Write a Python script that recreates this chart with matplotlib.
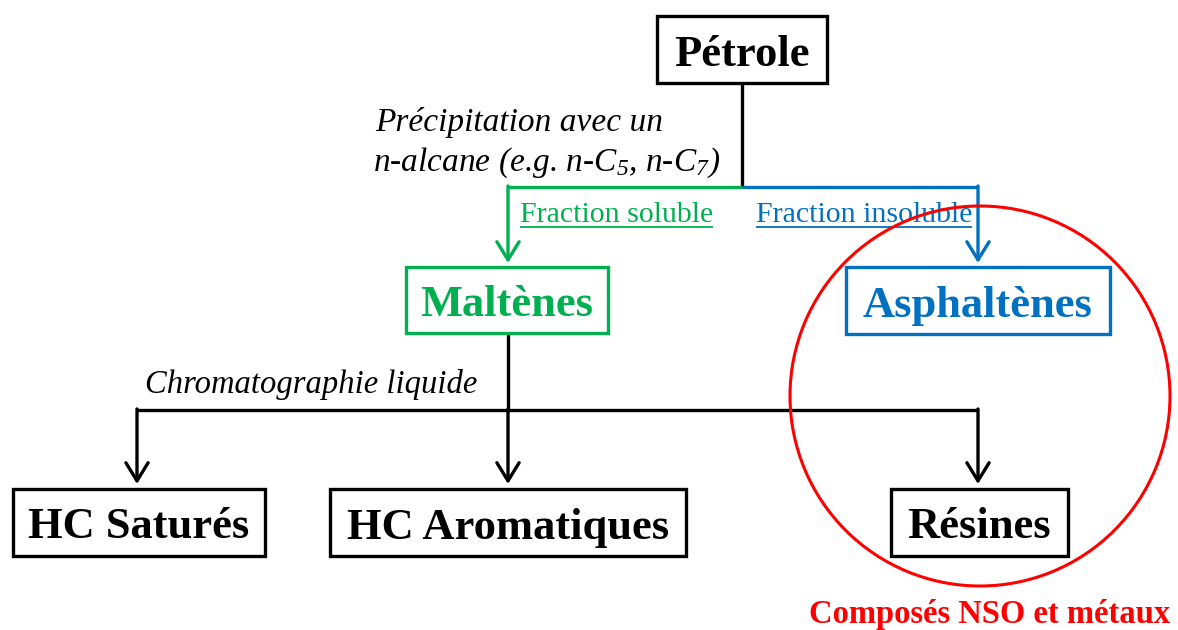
import matplotlib
matplotlib.use("Agg")
import matplotlib.pyplot as plt
from matplotlib.patches import Rectangle, Circle

plt.rcParams["font.family"] = ["Liberation Serif", "DejaVu Serif"]
plt.rcParams["mathtext.fontset"] = "custom"
plt.rcParams["mathtext.rm"] = "Liberation Serif:italic"
plt.rcParams["mathtext.it"] = "Liberation Serif:italic"

# contenu du schéma
box_labels = ["Pétrole", "Maltènes", "Asphaltènes", "HC Saturés", "HC Aromatiques", "Résines"]
fraction_labels = ["Fraction soluble", "Fraction insoluble"]
step_labels = ["Précipitation avec un", r"n-alcane (e.g. n-C$_5$, n-C$_7$)", "Chromatographie liquide"]
note_label = "Composés NSO et métaux"

GREEN = "#00B050"
BLUE = "#0070C0"
RED = "#FF0000"
BLACK = "black"

# géométrie (pixels, origine en haut à gauche)
boxes = {
    "Pétrole": (657, 16, 827, 83, BLACK),
    "Maltènes": (406, 267, 608, 333, GREEN),
    "Asphaltènes": (846, 267, 1110, 334, BLUE),
    "HC Saturés": (13, 489, 265, 556, BLACK),
    "HC Aromatiques": (330, 489, 686, 556, BLACK),
    "Résines": (891, 489, 1068, 556, BLACK),
}

W, H = 1178, 630
fig = plt.figure(figsize=(W / 100, H / 100), dpi=100)
ax = fig.add_axes([0, 0, 1, 1])
ax.set_xlim(0, W)
ax.set_ylim(H, 0)
ax.axis("off")

LW = 2.4

for name in box_labels:
    x0, y0, x1, y1, col = boxes[name]
    ax.add_patch(Rectangle((x0, y0), x1 - x0, y1 - y0, fill=False, ec=col, lw=LW, zorder=3))
    ax.text((x0 + x1) / 2, (y0 + y1) / 2 + 5, name, ha="center", va="center",
            fontsize=32, fontweight="bold", color=col, zorder=4)


def seg(xs, ys, col, lw=LW):
    ax.plot(xs, ys, color=col, lw=lw, solid_capstyle="butt", solid_joinstyle="miter", zorder=2)


def arrow(x, y0, y1, col):
    ax.annotate("", xy=(x, y1), xytext=(x, y0),
                arrowprops=dict(arrowstyle="->,head_length=1.3,head_width=0.8",
                                color=col, lw=LW, shrinkA=0, shrinkB=0), zorder=2)


# Pétrole -> fractions
seg([742, 742], [83, 187], BLACK)
seg([508, 742], [187, 187], GREEN)
seg([742, 978], [187, 187], BLUE)
arrow(508, 186, 263, GREEN)
arrow(978, 186, 263, BLUE)

# Maltènes -> chromatographie
seg([508, 508], [333, 410], BLACK)
seg([137, 978], [410, 410], BLACK)
arrow(508, 409, 484, BLACK)
arrow(137, 409, 484, BLACK)
arrow(978, 409, 484, BLACK)

# textes des étapes
ax.text(375, 122, step_labels[0], fontsize=24, style="italic", ha="left", va="center")
ax.text(373, 163, step_labels[1], fontsize=24, style="italic", ha="left", va="center")
ax.text(145, 385, step_labels[2], fontsize=23.5, style="italic", ha="left", va="center")

# fractions soulignées
fig.canvas.draw()
r = fig.canvas.get_renderer()
for lab, x, col in zip(fraction_labels, [520, 756], [GREEN, BLUE]):
    t = ax.text(x, 215, lab, fontsize=21.5, color=col, ha="left", va="center")
    bb = t.get_window_extent(r).transformed(ax.transData.inverted())
    seg([bb.x0, bb.x1], [227, 227], col, lw=1.3)

# cercle rouge et note
ax.add_patch(Circle((980, 396), 190, fill=False, ec=RED, lw=2.2, zorder=5))
ax.text(990, 614, note_label, fontsize=23.5, fontweight="bold", color=RED, ha="center", va="center")

fig.savefig("out.png", dpi=100)
